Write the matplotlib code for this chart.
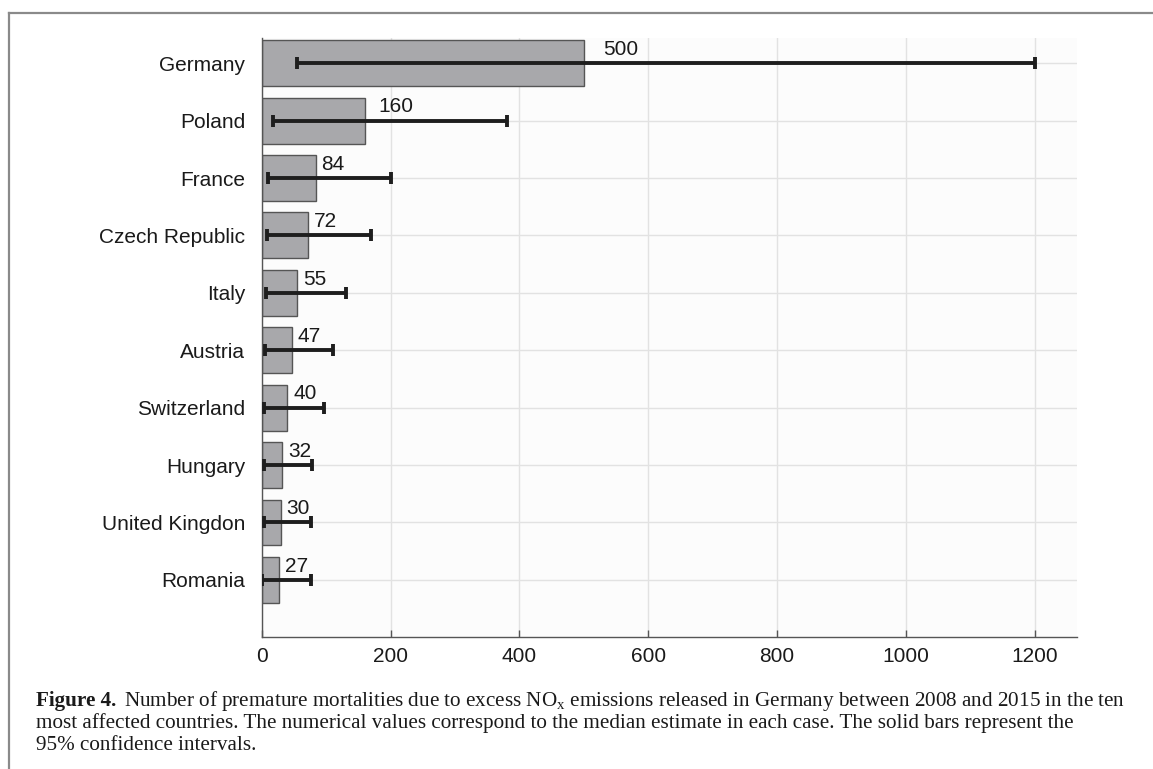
import numpy as np
import matplotlib.pyplot as plt
from matplotlib.lines import Line2D

countries = ['Germany', 'Poland', 'France', 'Czech Republic', 'Italy',
             'Austria', 'Switzerland', 'Hungary', 'United Kingdon', 'Romania']
median = [500, 160, 84, 72, 55, 47, 40, 32, 30, 27]
ci_low = [55, 17, 9, 8, 6, 5, 4, 3, 3, 1]
ci_high = [1200, 380, 200, 170, 131, 110, 96, 78, 76, 77]
xticks = [0, 200, 400, 600, 800, 1000, 1200]

plt.rcParams['font.family'] = ['Liberation Sans', 'DejaVu Sans']

fig = plt.figure(figsize=(11.53, 7.69), dpi=100)
ax = fig.add_axes([0.227, 0.1713, 0.7068, 0.7793])
ax.set_facecolor('#fcfcfc')

y = np.arange(len(countries))
med = np.array(median)
err = [med - np.array(ci_low), np.array(ci_high) - med]

ax.barh(y, med, height=0.8, color='#a8a8ab', edgecolor='#555555', linewidth=1.0, zorder=2)
ax.errorbar(med, y, xerr=err, fmt='none', ecolor='#1e1e1e', elinewidth=2.8,
            capsize=4.5, capthick=2.8, zorder=3)

# labels sit just right of the bar end, the top two were nudged further out
extra = {'Germany': 10, 'Poland': 6}
for yi, name, v in zip(y, countries, median):
    ax.annotate(str(v), xy=(v, yi), xytext=(4 + extra.get(name, 0), 6),
                textcoords='offset points', ha='left', va='baseline',
                fontsize=15, color='#1a1a1a', zorder=4)

ax.set_yticks(y)
ax.set_yticklabels(countries)
ax.set_xticks(xticks)
ax.set_xlim(0, 1265)
ax.set_ylim(len(countries), -0.44)

ax.grid(True, color='#e2e2e2', linewidth=1.0, zorder=0)
ax.set_axisbelow(True)
for s in ['top', 'right']:
    ax.spines[s].set_visible(False)
for s in ['left', 'bottom']:
    ax.spines[s].set_color('#555555')
    ax.spines[s].set_linewidth(1.0)
ax.tick_params(axis='x', direction='in', length=5, width=1, color='#555555',
               labelsize=15, pad=7, labelcolor='#1a1a1a')
ax.tick_params(axis='y', length=0, labelsize=15, pad=12, labelcolor='#1a1a1a')

# page frame
fig.add_artist(Line2D([9 / 1153, 9 / 1153], [0, 1 - 13 / 769], color='#8a8a8a',
                      linewidth=1.6, transform=fig.transFigure))
fig.add_artist(Line2D([9 / 1153, 1], [1 - 13 / 769, 1 - 13 / 769], color='#8a8a8a',
                      linewidth=1.6, transform=fig.transFigure))

# caption
serif = ['Liberation Serif', 'DejaVu Serif']
cap_size = 15.2
x0 = 36 / 1153
b1 = fig.text(x0, 1 - 706 / 769, 'Figure 4.', family=serif, weight='bold',
              fontsize=cap_size, va='baseline', color='#1a1a1a')
fig.canvas.draw()
bb = b1.get_window_extent()
x1 = (bb.x1 + 8) / 1153
fig.text(x1, 1 - 706 / 769,
         r'Number of premature mortalities due to excess NO$\mathregular{_x}$ emissions released in Germany between 2008 and 2015 in the ten',
         family=serif, fontsize=cap_size, va='baseline', color='#1a1a1a')
fig.text(x0, 1 - 728 / 769,
         'most affected countries. The numerical values correspond to the median estimate in each case. The solid bars represent the',
         family=serif, fontsize=cap_size, va='baseline', color='#1a1a1a')
fig.text(x0, 1 - 750 / 769, '95% confidence intervals.',
         family=serif, fontsize=cap_size, va='baseline', color='#1a1a1a')

fig.savefig('out.png', dpi=100)
